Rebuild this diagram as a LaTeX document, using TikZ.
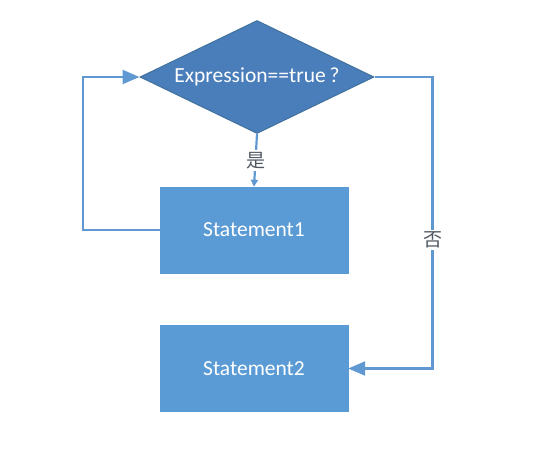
\documentclass[tikz,border=0pt]{standalone}
\usepackage{fontspec}
\setmainfont{Carlito}
\newfontfamily\cjk{Noto Sans CJK SC}
\usetikzlibrary{shapes.geometric,arrows.meta}

\begin{document}
\begin{tikzpicture}[x=1pt,y=-1pt]
    \definecolor{flow_dark}{RGB}{74,126,187}
    \definecolor{flow_darkB}{RGB}{65,113,156}
    \definecolor{flow_box}{RGB}{91,155,213}
    \definecolor{flow_line}{RGB}{96,153,210}
    \definecolor{flow_text}{RGB}{80,88,100}
    \tikzset{
        condbox/.style={shape=diamond,draw=flow_darkB,line width=1pt,fill=flow_dark,inner sep=0pt,aspect=2.07,minimum width=234pt,minimum height=113pt,text=white,font=\fontsize{21.5}{25}\selectfont},
        stmtbox/.style={shape=rectangle,draw=flow_box,fill=flow_box,minimum width=188pt,minimum height=86pt,text=white,font=\fontsize{21.5}{25}\selectfont},
        flowline/.style={draw=flow_line,line width=2.2pt},
        bighead/.style={-{Triangle[width=14pt,length=17pt]}},
        smallhead/.style={-{Triangle[width=7pt,length=7pt]}},
        answer/.style={fill=white,text=flow_text,inner sep=2pt,font=\cjk\fontsize{19}{22}\selectfont}
    }
    \useasboundingbox (0,0) rectangle (541,458);
    \node[condbox] (cond) at (257,77) {Expression==true\hspace{4pt}?};
    \node[stmtbox] (stmtA) at (254,230) {Statement1};
    \node[stmtbox] (stmtB) at (254,368.5) {Statement2};
    % yes branch
    \draw[flowline,smallhead] (cond.south) -- (stmtA.north) node[midway,answer] {是};
    % loop back
    \draw[flowline,bighead] (stmtA.west) -- ++(-77,0) |- (cond.west);
    % no branch
    \draw[flowline,bighead] (cond.east) -- ++(58,0) |- (stmtB.east) node[pos=0.28,answer] {否};
\end{tikzpicture}
\end{document}
